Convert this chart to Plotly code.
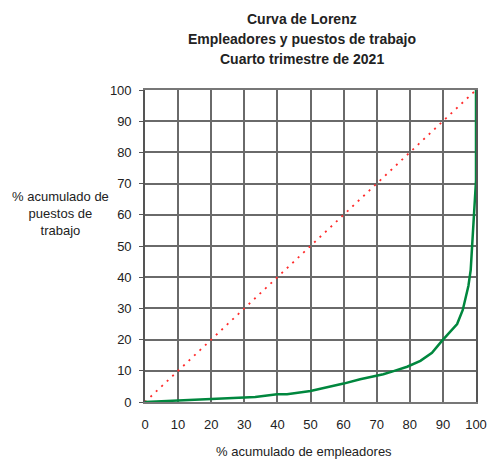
import plotly.graph_objects as go

# Lorenz curve data
pct_empleadores = [0, 10.2, 20.2, 29.8, 33.3, 39.9, 42.9, 50, 55, 60, 65, 70, 72, 75.1, 79.2,
                   83.2, 86.7, 89.7, 94.3, 96.0, 97.7, 98.4, 99.0, 99.5, 99.8, 100, 100]
pct_puestos = [0, 0.5, 0.9, 1.6, 1.6, 2.5, 2.5, 3.5, 4.6, 5.9, 7.3, 8.5, 8.9, 9.9, 11.3,
               13.2, 15.8, 19.6, 25.0, 29.5, 37.2, 42.3, 52, 60.6, 67, 71, 100]

equidad_x = [0, 100]
equidad_y = [0, 100]

tick_vals = [0, 10, 20, 30, 40, 50, 60, 70, 80, 90, 100]

title_lines = ["Curva de Lorenz", "Empleadores y puestos de trabajo", "Cuarto trimestre de 2021"]
title_y = [1.229, 1.164, 1.098]
y_title = "% acumulado de<br>puestos de<br>trabajo"
x_title = "% acumulado de empleadores"

font_family = "Liberation Sans, Arial, sans-serif"
txt = "#222222"

fig = go.Figure()
fig.add_trace(go.Scatter(x=equidad_x, y=equidad_y, mode="lines",
                         line=dict(color="#ff2a2a", width=1.8, dash="2px,5.5px"),
                         showlegend=False, hoverinfo="skip"))
fig.add_trace(go.Scatter(x=pct_empleadores, y=pct_puestos, mode="lines",
                         line=dict(color="#00873e", width=2.5),
                         showlegend=False))

annotations = [
    dict(text="<b>" + t + "</b>", xref="paper", yref="paper", x=0.474, y=yy,
         xanchor="center", yanchor="middle", showarrow=False,
         font=dict(size=14, family=font_family, color=txt))
    for t, yy in zip(title_lines, title_y)
]
annotations.append(dict(text=y_title, xref="paper", yref="paper",
                        x=-0.254, y=0.603, xanchor="center", yanchor="middle", showarrow=False,
                        font=dict(size=13, family=font_family, color=txt), align="center"))
annotations.append(dict(text=x_title, xref="paper", yref="paper",
                        x=0.480, y=-0.160, xanchor="center", yanchor="middle", showarrow=False,
                        font=dict(size=13, family=font_family, color=txt)))

fig.update_layout(
    width=488, height=460,
    margin=dict(l=145, r=12, t=90, b=58, autoexpand=False),
    paper_bgcolor="white", plot_bgcolor="white",
    font=dict(family=font_family, size=13, color=txt),
    xaxis=dict(range=[0, 100], tickvals=tick_vals, showgrid=True, gridcolor="#6a6a6a", gridwidth=1.6,
               zeroline=False, showline=True, linecolor="#777777", linewidth=1.6, mirror=True,
               ticks="", ticklabelstandoff=10),
    yaxis=dict(range=[0, 100], tickvals=tick_vals, showgrid=True, gridcolor="#6a6a6a", gridwidth=1.6,
               zeroline=False, showline=True, linecolor="#555555", linewidth=1.6, mirror=True,
               ticks="outside", ticklen=4, tickcolor="#555555", ticklabelstandoff=5),
    annotations=annotations,
)

fig.write_html("out.html", config={"displayModeBar": False},
               post_script="document.body.style.margin='0';document.body.style.overflow='hidden';")
